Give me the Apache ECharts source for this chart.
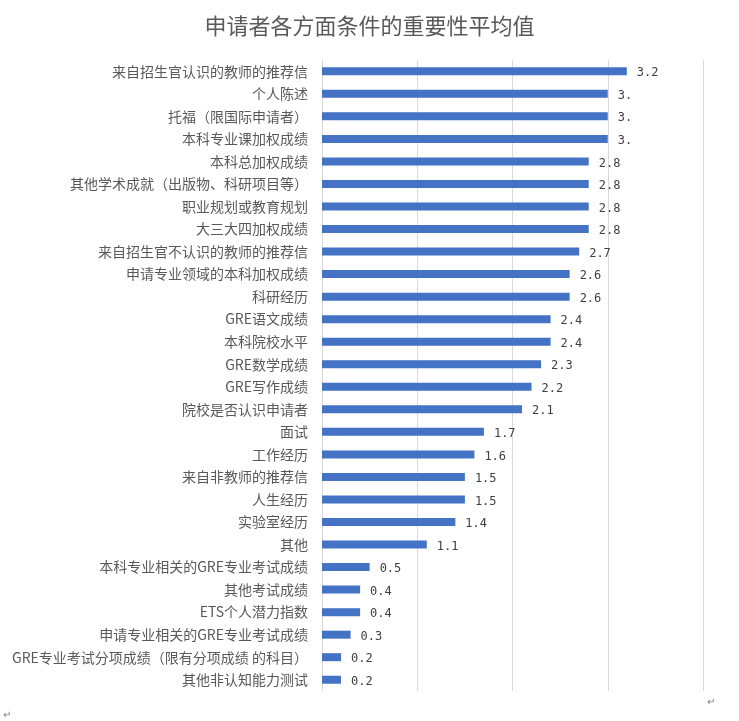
<!DOCTYPE html>
<html>
<head>
<meta charset="utf-8">
<script src="https://cdn.jsdelivr.net/npm/echarts@6/dist/echarts.min.js"></script>
<style>
html,body{margin:0;padding:0;background:#fff;}
#chart{width:739px;height:721px;}
</style>
</head>
<body>
<div id="chart"></div>
<script>
const titleText = '申请者各方面条件的重要性平均值';
const categories = [
  '来自招生官认识的教师的推荐信',
  '个人陈述',
  '托福（限国际申请者）',
  '本科专业课加权成绩',
  '本科总加权成绩',
  '其他学术成就（出版物、科研项目等）',
  '职业规划或教育规划',
  '大三大四加权成绩',
  '来自招生官不认识的教师的推荐信',
  '申请专业领域的本科加权成绩',
  '科研经历',
  'GRE语文成绩',
  '本科院校水平',
  'GRE数学成绩',
  'GRE写作成绩',
  '院校是否认识申请者',
  '面试',
  '工作经历',
  '来自非教师的推荐信',
  '人生经历',
  '实验室经历',
  '其他',
  '本科专业相关的GRE专业考试成绩',
  '其他考试成绩',
  'ETS个人潜力指数',
  '申请专业相关的GRE专业考试成绩',
  'GRE专业考试分项成绩（限有分项成绩 的科目）',
  '其他非认知能力测试'
];
const values = [3.2, 3.0, 3.0, 3.0, 2.8, 2.8, 2.8, 2.8, 2.7, 2.6, 2.6, 2.4, 2.4, 2.3, 2.2, 2.1, 1.7, 1.6, 1.5, 1.5, 1.4, 1.1, 0.5, 0.4, 0.4, 0.3, 0.2, 0.2];
const valueLabels = ['3.2', '3.', '3.', '3.', '2.8', '2.8', '2.8', '2.8', '2.7', '2.6', '2.6', '2.4', '2.4', '2.3', '2.2', '2.1', '1.7', '1.6', '1.5', '1.5', '1.4', '1.1', '0.5', '0.4', '0.4', '0.3', '0.2', '0.2'];
const axisMin = 0, axisMax = 4, axisInterval = 1;

const chart = echarts.init(document.getElementById('chart'), null, {renderer: 'canvas'});
chart.setOption({
  animation: false,
  backgroundColor: '#ffffff',
  title: {
    text: titleText,
    left: 'center',
    top: 10,
    textStyle: {color: '#595959', fontSize: 22, fontWeight: 'normal', fontFamily: '"Noto Sans CJK SC", sans-serif'}
  },
  grid: {left: 322, right: 36, top: 60, bottom: 30, containLabel: false},
  xAxis: {
    type: 'value', min: axisMin, max: axisMax, interval: axisInterval,
    axisLabel: {show: false}, axisTick: {show: false}, axisLine: {show: false},
    splitLine: {show: true, lineStyle: {color: '#d9d9d9', width: 1}}
  },
  yAxis: {
    type: 'category', data: categories, inverse: true,
    axisLine: {show: true, lineStyle: {color: '#d9d9d9', width: 1}},
    axisTick: {show: false},
    axisLabel: {color: '#595959', fontSize: 14, margin: 14, fontFamily: '"Noto Sans CJK SC", sans-serif'}
  },
  series: [{
    type: 'bar',
    data: values,
    barWidth: 8,
    itemStyle: {color: '#4472C4'},
    label: {
      show: true, position: 'right', distance: 10, offset: [0, 2],
      color: '#404040', fontSize: 12, fontFamily: '"DejaVu Sans Mono", monospace',
      formatter: p => valueLabels[p.dataIndex]
    }
  }],
  graphic: [
    {type: 'text', left: 3, top: 710, style: {text: '↵', fill: '#808080', fontSize: 10}},
    {type: 'text', left: 707, top: 697, style: {text: '↵', fill: '#808080', fontSize: 10}}
  ]
});
</script>
</body>
</html>
